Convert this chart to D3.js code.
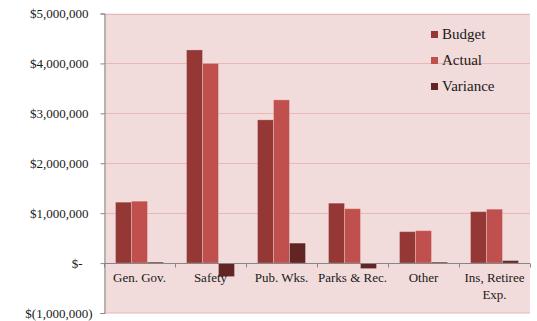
<!DOCTYPE html>
<html><head><meta charset="utf-8">
<script src="https://cdn.jsdelivr.net/npm/d3@7"></script>
<style>body{margin:0;background:#fff}svg{display:block}text{font-family:"Liberation Serif","Times New Roman",serif;fill:#1a1a1a}</style>
</head><body><svg id="c" width="537" height="321"></svg>
<script>
const categories = ["Gen. Gov.", "Safety", "Pub. Wks.", "Parks & Rec.", "Other", "Ins, Retiree Exp."];
const seriesNames = ["Budget", "Actual", "Variance"];
const budget =   [1220000, 4270000, 2870000, 1200000, 630000, 1030000];
const actual =   [1240000, 4000000, 3270000, 1090000, 650000, 1080000];
const variance = [  20000, -270000,  400000, -110000,  20000,   50000];
const yTicks = [-1000000, 0, 1000000, 2000000, 3000000, 4000000, 5000000];
const colors = ["#953735", "#c0504d", "#632523"];

const svg = d3.select("#c");
const L = 104, R = 530, T = 13.5, B = 313;
const y = d3.scaleLinear().domain([-1000000, 5000000]).range([B, T]);
const x0 = d3.scaleBand().domain(categories).range([L, R]).paddingInner(0).paddingOuter(0);
const x1 = d3.scaleBand().domain(seriesNames).range([0, x0.bandwidth()]).paddingInner(0).paddingOuter(0.72);

svg.append("rect").attr("x", L).attr("y", T).attr("width", R - L).attr("height", B - T).attr("fill", "#f2dcdb");

// gridlines
svg.append("g").selectAll("line").data(yTicks.filter(d => d > 0)).join("line")
  .attr("x1", L).attr("x2", R).attr("y1", d => Math.round(y(d)) + 0.5).attr("y2", d => Math.round(y(d)) + 0.5)
  .attr("stroke", "#e6b9b8").attr("stroke-width", 1);
// bottom border
svg.append("line").attr("x1", L).attr("x2", R).attr("y1", B).attr("y2", B).attr("stroke", "#e6b9b8");

// y axis
const fmt = v => v === 0 ? "$-" : v < 0 ? "$(" + d3.format(",")(-v) + ")" : "$" + d3.format(",")(v);
const yAxis = d3.axisLeft(y).tickValues(yTicks).tickSize(4).tickFormat(fmt);
const yg = svg.append("g").attr("transform", `translate(${L + 0.5},0)`).call(yAxis);
yg.select(".domain").attr("stroke", "#868686");
yg.selectAll(".tick line").attr("stroke", "#868686");
yg.selectAll(".tick text").attr("font-size", 13).attr("font-family", "Liberation Serif")
  .attr("fill", "#1a1a1a")
  .attr("x", d => d === 0 ? -22 : d < 0 ? -12 : -16);

// bars
const data = [budget, actual, variance];
const groups = svg.append("g").selectAll("g").data(categories).join("g")
  .attr("transform", d => `translate(${x0(d)},0)`);
groups.selectAll("rect").data((c, i) => seriesNames.map((s, j) => ({ s, v: data[j][i], j }))).join("rect")
  .attr("x", d => x1(d.s))
  .attr("width", x1.bandwidth())
  .attr("y", d => y(Math.max(0, d.v)))
  .attr("height", d => Math.abs(y(d.v) - y(0)))
  .attr("fill", d => colors[d.j])
  .attr("stroke", "rgba(255,255,255,0.25)").attr("stroke-width", 1);

// zero axis with category ticks
const y0 = Math.round(y(0)) + 0.5;
svg.append("line").attr("x1", L).attr("x2", R).attr("y1", y0).attr("y2", y0).attr("stroke", "#868686");
const bounds = categories.map(c => x0(c)).concat([R]);
svg.append("g").selectAll("line").data(bounds).join("line")
  .attr("x1", d => Math.round(d) + 0.5).attr("x2", d => Math.round(d) + 0.5)
  .attr("y1", y0).attr("y2", y0 + 4).attr("stroke", "#868686");

// category labels
const xl = svg.append("g").selectAll("text").data(categories).join("text")
  .attr("x", d => x0(d) + x0.bandwidth() / 2)
  .attr("y", 282).attr("text-anchor", "middle").attr("font-size", 13);
xl.each(function(d) {
  const parts = d === "Ins, Retiree Exp." ? ["Ins, Retiree", "Exp."] : [d];
  const t = d3.select(this);
  parts.forEach((p, k) => t.append("tspan").attr("x", x0(d) + x0.bandwidth() / 2).attr("dy", k ? 17 : 0).text(p));
});

// legend
const lg = svg.append("g").selectAll("g").data(seriesNames).join("g")
  .attr("transform", (d, i) => `translate(431,${31 + i * 26})`);
lg.append("rect").attr("width", 7).attr("height", 7).attr("fill", (d, i) => colors[i]);
lg.append("text").attr("x", 11).attr("y", 8).attr("font-size", 15).text(d => d);
</script></body></html>
